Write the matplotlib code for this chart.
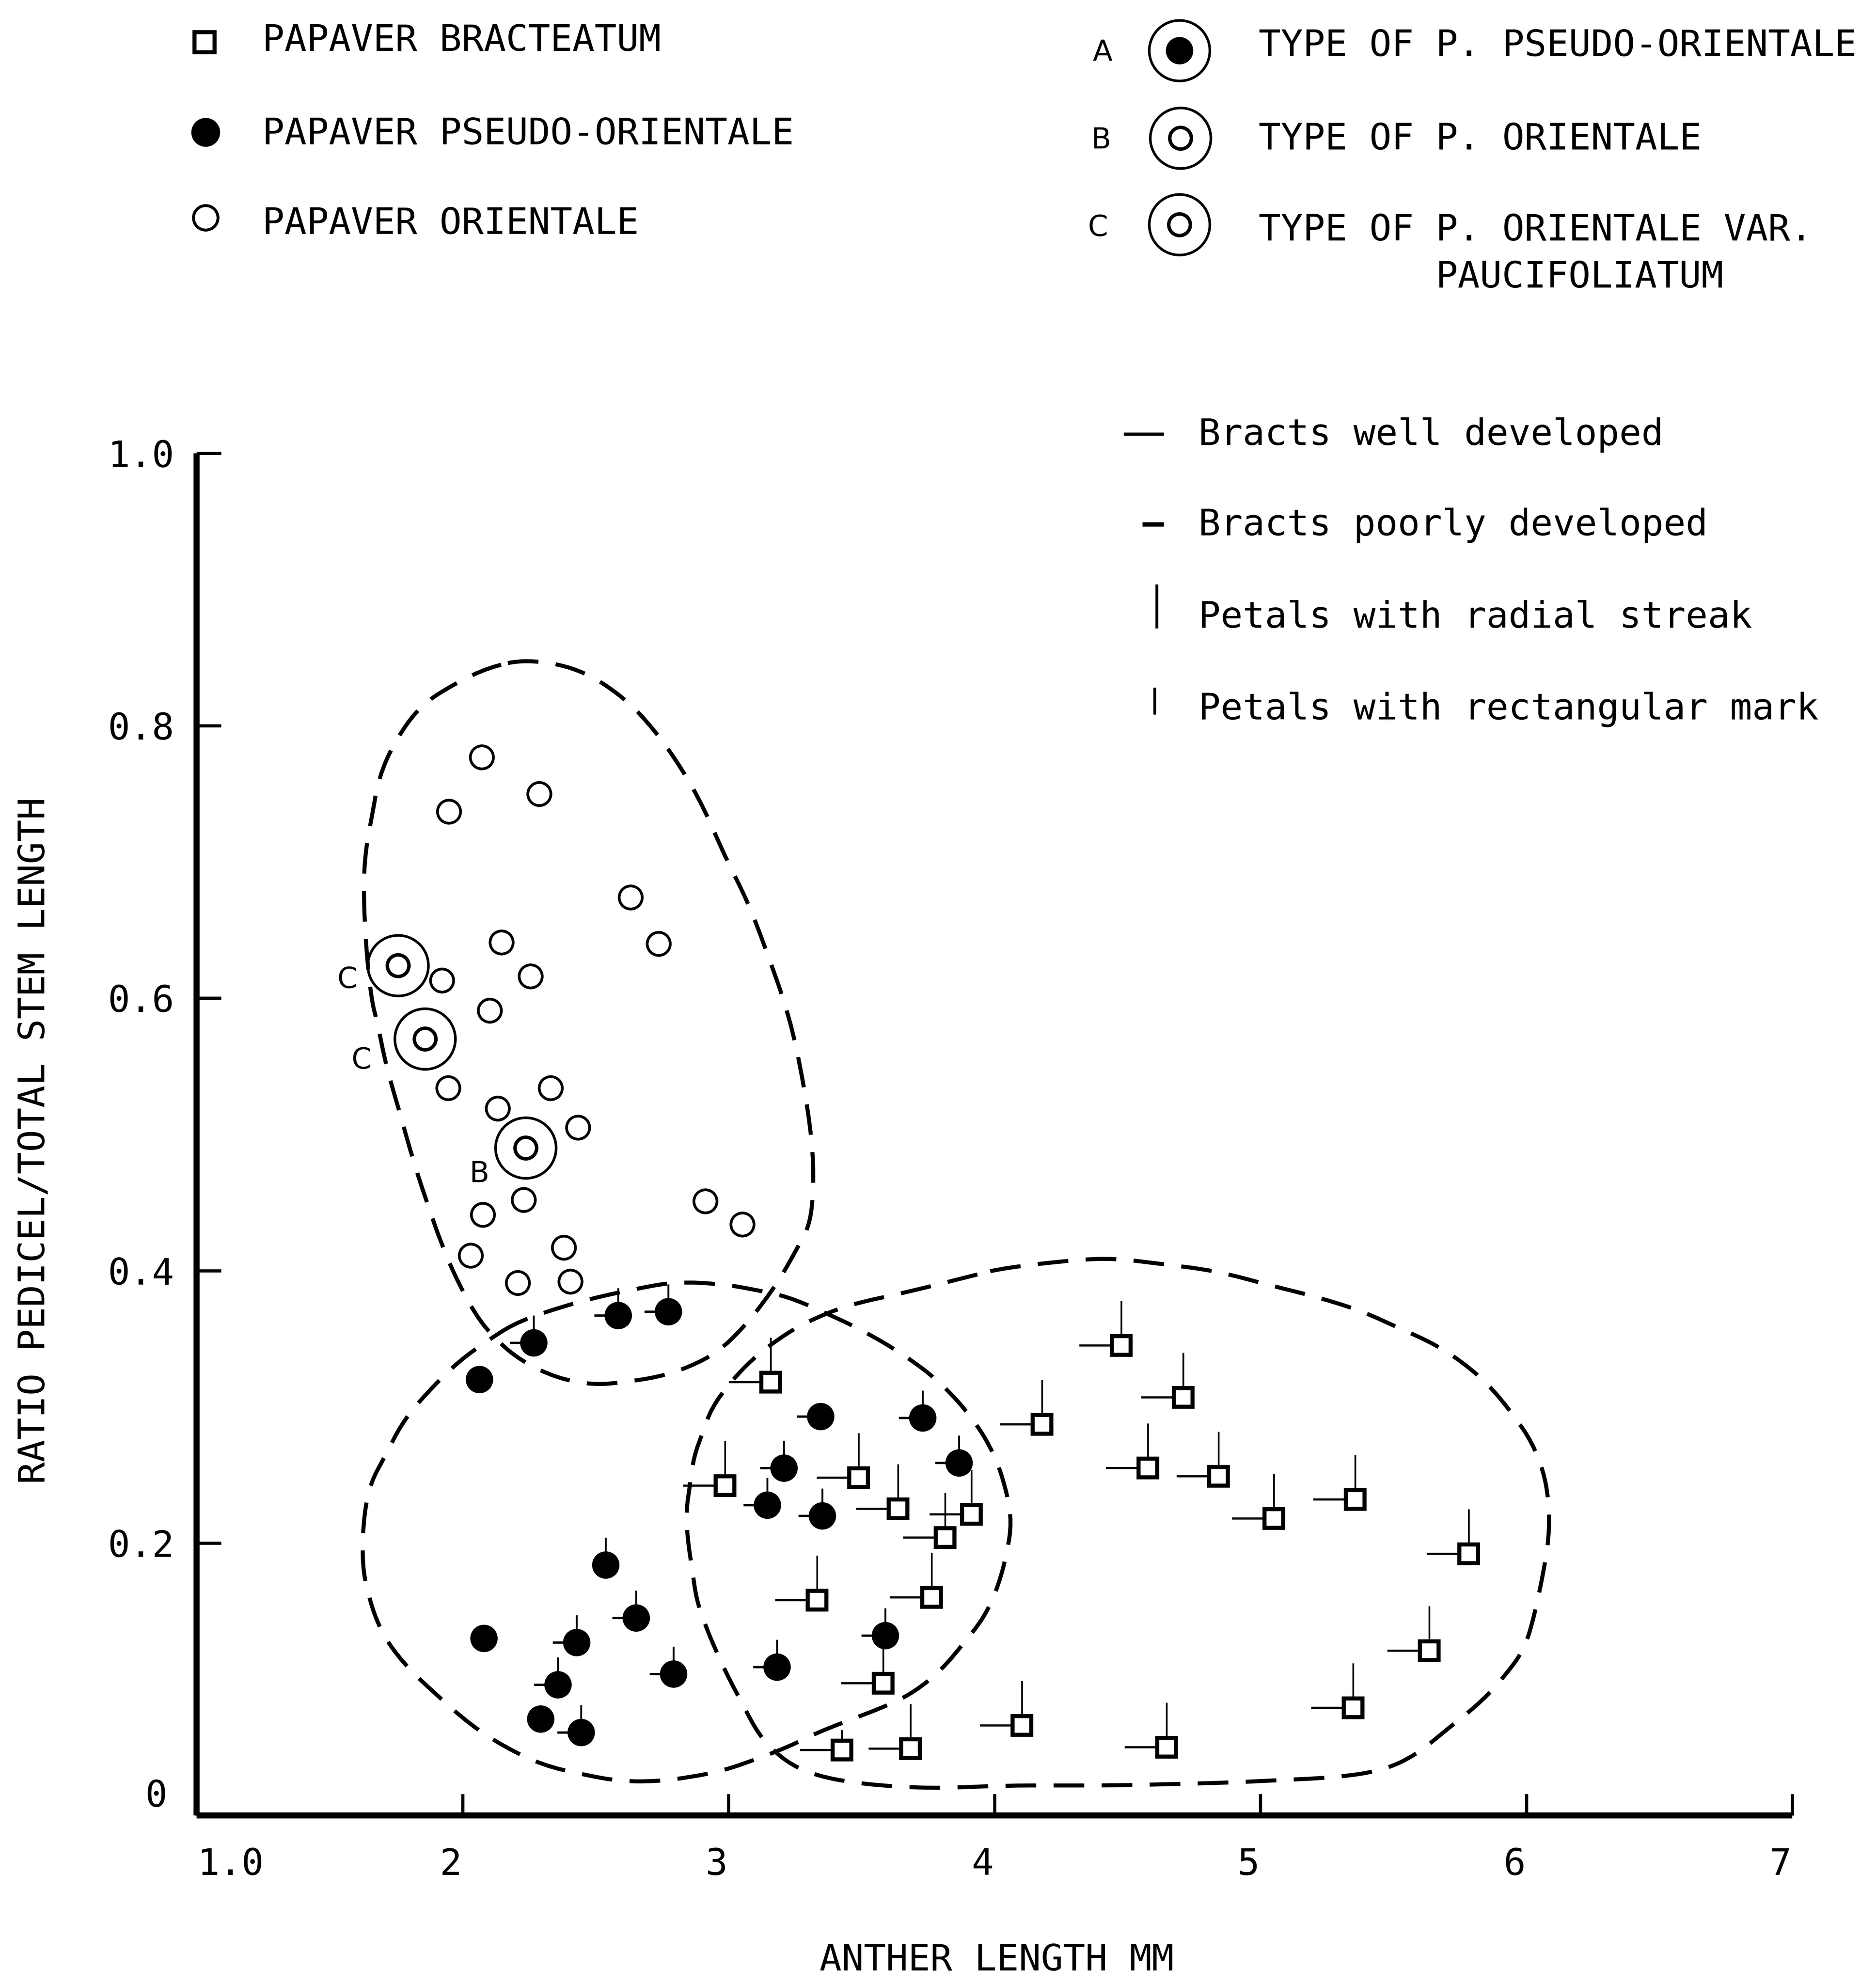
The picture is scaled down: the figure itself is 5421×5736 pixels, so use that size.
import matplotlib
matplotlib.use("Agg")
import matplotlib.pyplot as plt
from matplotlib.lines import Line2D
from matplotlib.path import Path
from matplotlib.patches import PathPatch
from matplotlib.transforms import ScaledTranslation
from matplotlib.markers import TICKLEFT, TICKUP

# ---------------------------------------------------------------- data
# Papaver orientale (open circles)
orientale_x = [2.072, 1.949, 2.288, 2.632, 2.146, 2.737, 1.923, 2.256, 2.102, 1.946, 2.331,
               2.132, 2.434, 2.230, 2.076, 2.031, 2.381, 2.208, 2.405, 2.913, 3.052]
orientale_y = [0.777, 0.737, 0.750, 0.674, 0.641, 0.640, 0.613, 0.616, 0.591, 0.534, 0.534,
               0.519, 0.505, 0.452, 0.441, 0.411, 0.417, 0.391, 0.392, 0.451, 0.434]

# Papaver pseudo-orientale (filled circles)
pseudo_x = [2.063, 2.267, 2.585, 2.774, 3.346, 3.730, 3.208, 3.867, 3.146, 3.353,
            2.538, 2.653, 2.793, 3.182, 3.589, 2.080, 2.429, 2.359, 2.293, 2.446]
pseudo_y = [0.320, 0.347, 0.367, 0.370, 0.293, 0.292, 0.255, 0.259, 0.228, 0.220,
            0.184, 0.145, 0.104, 0.109, 0.132, 0.130, 0.127, 0.096, 0.071, 0.061]
pseudo_bracts = ["none", "poor", "poor", "poor", "poor", "poor", "poor", "poor", "poor", "poor",
                 "none", "poor", "poor", "poor", "poor", "none", "poor", "poor", "none", "poor"]
pseudo_petals = ["none", "rect", "rect", "rect", "none", "rect", "rect", "rect", "rect", "rect",
                 "rect", "rect", "rect", "rect", "rect", "none", "rect", "rect", "none", "rect"]

# Papaver bracteatum (open squares)
bract_x = [3.159, 2.987, 3.489, 3.638, 3.913, 3.815, 3.333, 3.764, 3.582, 3.427, 3.684, 4.103,
           4.647, 4.477, 4.710, 4.179, 4.577, 4.843, 5.051, 5.357, 5.783, 5.635, 5.349]
bract_y = [0.318, 0.242, 0.248, 0.225, 0.221, 0.204, 0.158, 0.160, 0.097, 0.048, 0.049, 0.066,
           0.050, 0.345, 0.307, 0.287, 0.255, 0.249, 0.218, 0.232, 0.192, 0.121, 0.079]
bract_bracts = ["well"] * 23
bract_petals = ["streak"] * 9 + ["rect"] + ["streak"] * 13

# Type specimens (double circles)
type_x = [1.757, 1.859, 2.237]
type_y = [0.624, 0.570, 0.490]
type_codes = ["C", "C", "B"]
type_label_offsets = [(-35, -10), (-44, -15), (-32, -18)]  # points

# Dashed outlines of the three species groups
orientale_bx = [2.241, 2.440, 2.607, 2.722, 2.823, 2.907, 2.989, 3.070, 3.137, 3.231, 3.283,
                3.315, 3.321, 3.307, 3.260, 3.200, 3.130, 3.055, 2.960, 2.850, 2.740, 2.605,
                2.493, 2.355, 2.217, 2.122, 2.050, 1.974, 1.920, 1.875, 1.817, 1.761, 1.713,
                1.680, 1.657, 1.636, 1.627, 1.637, 1.661, 1.685, 1.746, 1.842, 1.971, 2.100]
orientale_by = [0.849, 0.842, 0.821, 0.797, 0.769, 0.740, 0.703, 0.672, 0.638, 0.586, 0.537,
                0.495, 0.462, 0.434, 0.417, 0.396, 0.376, 0.358, 0.340, 0.329, 0.322, 0.318,
                0.316, 0.321, 0.334, 0.350, 0.367, 0.395, 0.420, 0.445, 0.479, 0.518, 0.550,
                0.582, 0.599, 0.640, 0.683, 0.711, 0.735, 0.762, 0.789, 0.815, 0.831, 0.843]

pseudo_bx = [2.193, 2.317, 2.474, 2.636, 2.803, 2.983, 3.098, 3.222, 3.365, 3.506, 3.662, 3.798,
             3.922, 4.004, 4.050, 4.064, 4.050, 4.016, 3.964, 3.883, 3.802, 3.702, 3.602, 3.469,
             3.336, 3.221, 3.100, 2.983, 2.855, 2.730, 2.594, 2.452, 2.300, 2.161, 2.033, 1.899,
             1.775, 1.689, 1.637, 1.622, 1.630, 1.656, 1.704, 1.780, 1.894, 1.990, 2.090]
pseudo_by = [0.361, 0.370, 0.379, 0.386, 0.392, 0.390, 0.386, 0.381, 0.369, 0.356, 0.338, 0.318,
             0.291, 0.264, 0.235, 0.215, 0.195, 0.169, 0.146, 0.126, 0.107, 0.091, 0.081, 0.071,
             0.061, 0.050, 0.041, 0.033, 0.028, 0.025, 0.025, 0.030, 0.037, 0.050, 0.066, 0.089,
             0.112, 0.136, 0.167, 0.190, 0.222, 0.245, 0.262, 0.291, 0.316, 0.334, 0.348]

bract_bx = [4.037, 4.308, 4.455, 4.622, 4.830, 5.040, 5.206, 5.373, 5.497, 5.668, 5.792, 5.878,
            5.959, 6.021, 6.064, 6.083, 6.087, 6.073, 6.030, 5.992, 5.930, 5.835, 5.707, 5.583,
            5.459, 5.292, 5.083, 4.873, 4.664, 4.455, 4.245, 4.036, 3.803, 3.636, 3.469, 3.336,
            3.236, 3.155, 3.103, 3.055, 3.003, 2.955, 2.912, 2.879, 2.865, 2.846, 2.841, 2.855,
            2.869, 2.903, 2.936, 3.003, 3.089, 3.189, 3.289, 3.451, 3.670, 3.932]
bract_by = [0.402, 0.408, 0.409, 0.405, 0.400, 0.389, 0.381, 0.371, 0.360, 0.345, 0.328, 0.312,
            0.292, 0.274, 0.253, 0.233, 0.210, 0.187, 0.146, 0.122, 0.105, 0.084, 0.064, 0.044,
            0.033, 0.028, 0.026, 0.024, 0.023, 0.022, 0.022, 0.022, 0.020, 0.021, 0.024, 0.029,
            0.037, 0.050, 0.063, 0.081, 0.100, 0.120, 0.140, 0.159, 0.179, 0.203, 0.224, 0.242,
            0.263, 0.281, 0.299, 0.317, 0.335, 0.350, 0.362, 0.375, 0.384, 0.397]

x_ticks = [1, 2, 3, 4, 5, 6, 7]
x_tick_labels = ["1.0", "2", "3", "4", "5", "6", "7"]
y_ticks = [0, 0.2, 0.4, 0.6, 0.8, 1.0]
y_tick_labels = ["0", "0.2", "0.4", "0.6", "0.8", "1.0"]

# ---------------------------------------------------------------- layout
W, H, DPI = 5421, 5736, 300
MONO = "DejaVu Sans Mono"
SANS = "DejaVu Sans"
FS = 25.5
plt.rcParams["font.family"] = MONO

fig = plt.figure(figsize=(W / DPI, H / DPI), dpi=DPI)
fig.patch.set_facecolor("white")
ax = fig.add_axes([568 / W, 1 - 5246 / H, (5179 - 568) / W, (5246 - 1310) / H])
ax.set_xlim(1, 7)
ax.set_ylim(0, 1.0)
for side in ("top", "right"):
    ax.spines[side].set_visible(False)
for side in ("left", "bottom"):
    ax.spines[side].set_linewidth(4.2)
    ax.spines[side].set_capstyle("butt")

ax.set_xticks(x_ticks, x_tick_labels)
ax.set_yticks(y_ticks, y_tick_labels)
ax.tick_params(axis="x", direction="in", length=15, width=2.2, pad=22, labelsize=FS)
ax.tick_params(axis="y", direction="in", length=17, width=2.2, pad=15.5, labelsize=FS)
for i, lbl in enumerate(ax.get_xticklabels()):
    dx = 98 if i == 0 else -34
    lbl.set_transform(lbl.get_transform() + ScaledTranslation(dx / DPI, 0, fig.dpi_scale_trans))
ylbls = ax.get_yticklabels()
ylbls[0].set_transform(ylbls[0].get_transform() + ScaledTranslation(-20 / DPI, 65 / DPI, fig.dpi_scale_trans))


def cap_text(xp, yc, s, size=FS, ha="left", family=MONO, **kw):
    """Place text so that the middle of its capitals sits at pixel row yc."""
    cap = 0.729 * size * DPI / 72
    fig.text(xp / W, 1 - (yc + cap / 2) / H, s, ha=ha, va="baseline",
             fontsize=size, family=family, color="black", **kw)


# ---------------------------------------------------------------- outlines
def closed_outline(xs, ys):
    """Smooth closed outline: the listed points act as quadratic Bezier control points."""
    n = len(xs)
    mids = [((xs[i] + xs[(i + 1) % n]) / 2, (ys[i] + ys[(i + 1) % n]) / 2) for i in range(n)]
    verts = [mids[-1]]
    codes = [Path.MOVETO]
    for i in range(n):
        verts += [(xs[i], ys[i]), mids[i]]
        codes += [Path.CURVE3, Path.CURVE3]
    return Path(verts, codes)


for bx, by in ((orientale_bx, orientale_by), (pseudo_bx, pseudo_by), (bract_bx, bract_by)):
    ax.add_patch(PathPatch(closed_outline(bx, by), fill=False, edgecolor="black", lw=2.8,
                           linestyle=(0, (7.6, 4.3)), capstyle="butt", zorder=1))


# ---------------------------------------------------------------- character tags
def tags(xs, ys, kinds, key, marker, size, lw):
    sel = [i for i, k in enumerate(kinds) if k == key]
    if sel:
        ax.plot([xs[i] for i in sel], [ys[i] for i in sel], ls="none", marker=marker,
                ms=size, mew=lw, color="black", zorder=2)


tags(bract_x, bract_y, bract_bracts, "well", TICKLEFT, 29, 1.5)
tags(bract_x, bract_y, bract_petals, "streak", TICKUP, 31, 1.2)
tags(bract_x, bract_y, bract_petals, "rect", TICKUP, 14, 1.3)
tags(pseudo_x, pseudo_y, pseudo_bracts, "poor", TICKLEFT, 16.5, 1.6)
tags(pseudo_x, pseudo_y, pseudo_petals, "rect", TICKUP, 19, 1.3)

# ---------------------------------------------------------------- points
ax.plot(bract_x, bract_y, ls="none", marker="s", ms=13, mfc="white", mec="black",
        mew=2.8, zorder=3)
ax.plot(pseudo_x, pseudo_y, ls="none", marker="o", ms=18, mfc="black", mec="black",
        mew=1, zorder=3)
ax.plot(orientale_x, orientale_y, ls="none", marker="o", ms=16, mfc="white", mec="black",
        mew=1.9, zorder=3)
ax.plot(type_x, type_y, ls="none", marker="o", ms=42, mfc="none", mec="black", mew=1.8, zorder=3)
ax.plot(type_x, type_y, ls="none", marker="o", ms=15, mfc="white", mec="black", mew=2.4, zorder=3)
for x, y, code, off in zip(type_x, type_y, type_codes, type_label_offsets):
    ax.annotate(code, (x, y), xytext=off, textcoords="offset points", ha="center",
                va="center", fontsize=20, family=SANS, zorder=4)

# ---------------------------------------------------------------- axis titles
cap_text(2880, 5655, "ANTHER LENGTH MM", ha="center")
fig.text(100 / W, 1 - 3296 / H, "RATIO PEDICEL/TOTAL STEM LENGTH", rotation=90,
         ha="center", va="center", fontsize=FS, family=MONO)


# ---------------------------------------------------------------- legends
def fig_marker(xp, yp, **kw):
    fig.add_artist(Line2D([xp / W], [1 - yp / H], ls="none", transform=fig.transFigure, **kw))


def fig_bar(x0, y0, x1, y1, lw):
    fig.add_artist(Line2D([x0 / W, x1 / W], [1 - y0 / H, 1 - y1 / H], color="black", lw=lw,
                          solid_capstyle="butt", transform=fig.transFigure))


fig_marker(591, 122, marker="s", ms=14, mfc="white", mec="black", mew=2.8)
fig_marker(594, 382, marker="o", ms=19, mfc="black", mec="black", mew=1)
fig_marker(594, 629, marker="o", ms=17, mfc="white", mec="black", mew=2)
cap_text(758, 108, "PAPAVER BRACTEATUM")
cap_text(758, 378, "PAPAVER PSEUDO-ORIENTALE")
cap_text(758, 637, "PAPAVER ORIENTALE")

for (cx, cy), inner in (((3408, 146), "black"), ((3411, 399), "white"), ((3408, 649), "white")):
    fig_marker(cx, cy, marker="o", ms=42, mfc="none", mec="black", mew=1.8)
    if inner == "black":
        fig_marker(cx, cy, marker="o", ms=18, mfc="black", mec="black", mew=1)
    else:
        fig_marker(cx, cy, marker="o", ms=15, mfc="white", mec="black", mew=2.4)
cap_text(3186, 146, "A", size=20, ha="center", family=SANS)
cap_text(3182, 399, "B", size=20, ha="center", family=SANS)
cap_text(3172, 652, "C", size=20, ha="center", family=SANS)
cap_text(3637, 123, "TYPE OF P. PSEUDO-ORIENTALE")
cap_text(3637, 393, "TYPE OF P. ORIENTALE")
cap_text(3637, 656, "TYPE OF P. ORIENTALE VAR.")
cap_text(4149, 792, "PAUCIFOLIATUM")

fig_bar(3247, 1254, 3363, 1254, 2.2)
fig_bar(3301, 1515, 3363, 1515, 3.0)
fig_bar(3343, 1689, 3343, 1816, 2.0)
fig_bar(3337, 1987, 3337, 2065, 2.0)
cap_text(3463, 1247, "Bracts well developed")
cap_text(3463, 1508, "Bracts poorly developed")
cap_text(3463, 1775, "Petals with radial streak")
cap_text(3463, 2040, "Petals with rectangular mark")

fig.savefig("out.png", dpi=DPI, facecolor="white")
